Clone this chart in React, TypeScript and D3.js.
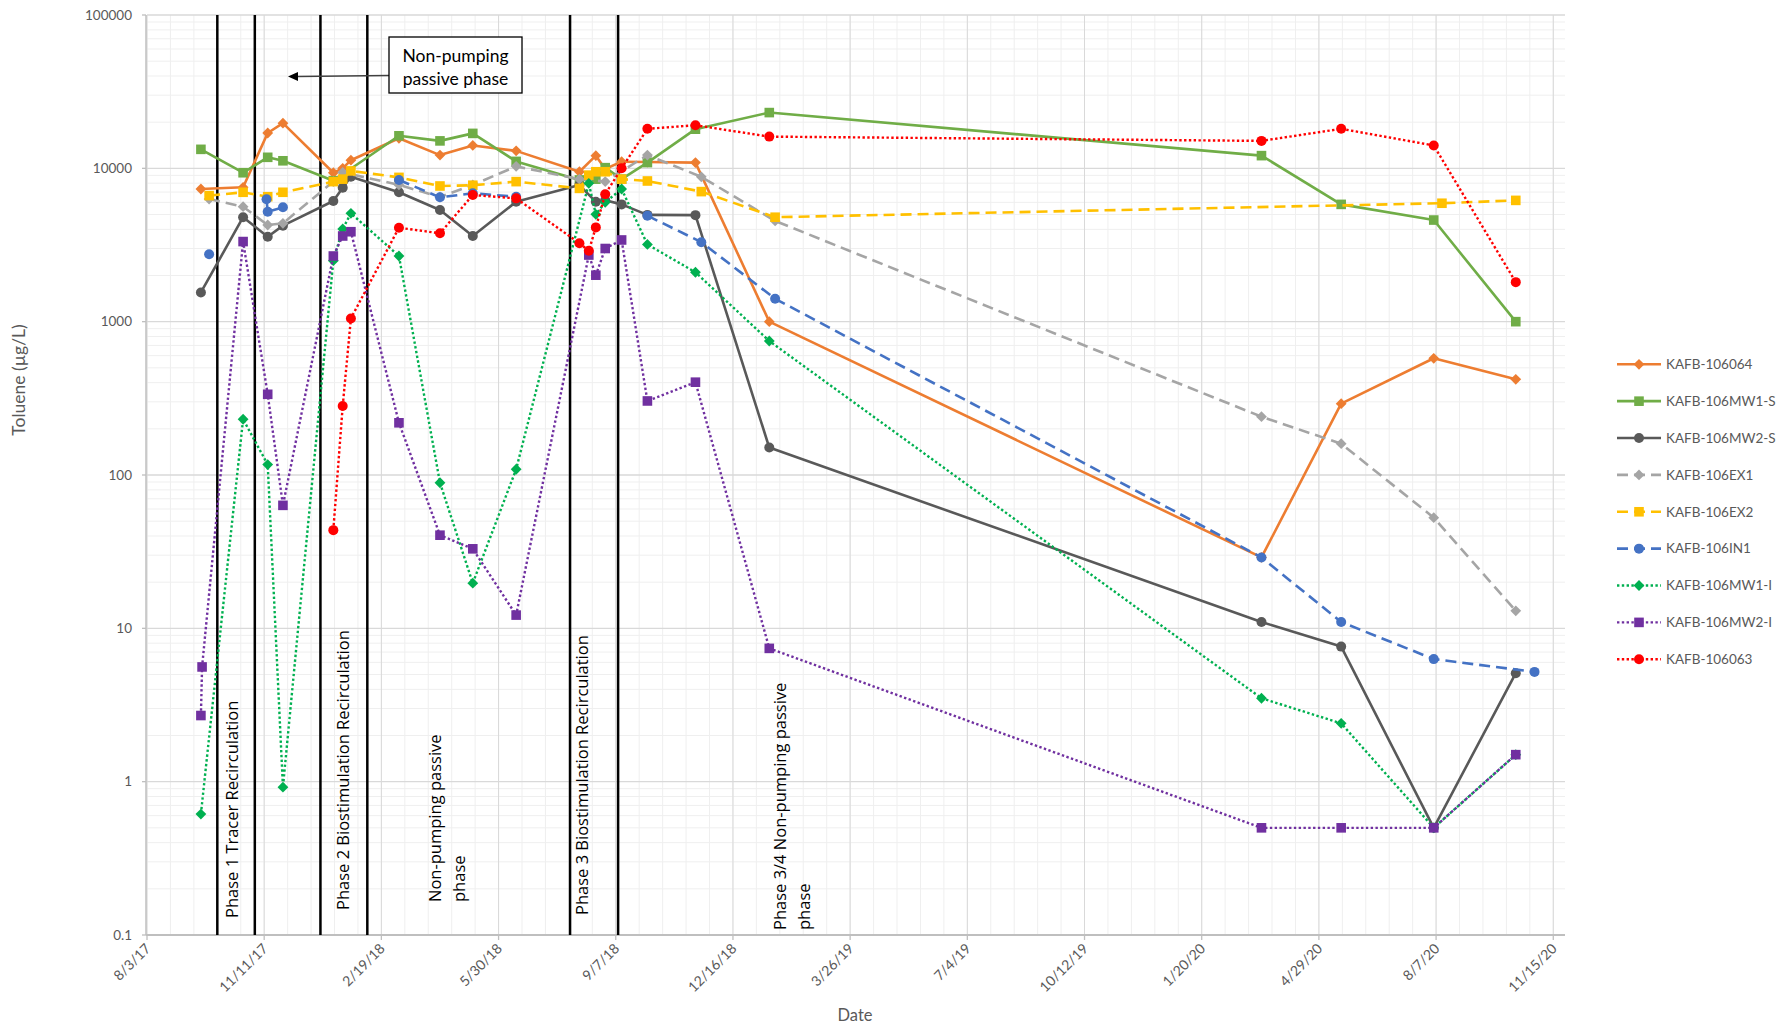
import { useEffect, useRef } from "react";
import * as d3 from "d3";

type Pt = [string, number | null];

// sampled concentrations (µg/L) per well
const kafb106064: Pt[] = [
    ["2017-09-18", 7330], ["2017-10-24", 7520], ["2017-11-14", 17000], ["2017-11-27", 19700],
    ["2018-01-09", 9360], ["2018-01-17", 10000], ["2018-01-24", 11300], ["2018-03-06", 15700],
    ["2018-04-10", 12200], ["2018-05-08", 14100], ["2018-06-14", 13000], ["2018-08-07", 9500],
    ["2018-08-21", 12100], ["2018-08-29", 9900], ["2018-09-12", 11050], ["2018-10-04", 11000],
    ["2018-11-14", 10900], ["2019-01-16", 1000], ["2020-03-11", 29], ["2020-05-18", 292],
    ["2020-08-05", 577], ["2020-10-14", 421],
];
const mw1s: Pt[] = [
    ["2017-09-18", 13300], ["2017-10-24", 9360], ["2017-11-14", 11800], ["2017-11-27", 11200],
    ["2018-01-09", 8300], ["2018-03-06", 16300], ["2018-04-10", 15100], ["2018-05-08", 16900],
    ["2018-06-14", 11100], ["2018-08-07", 8400], ["2018-08-21", 8500], ["2018-08-29", 10100],
    ["2018-09-12", 8500], ["2018-10-04", 10900], ["2018-11-14", 18000], ["2019-01-16", 23100],
    ["2020-03-11", 12100], ["2020-05-18", 5820], ["2020-08-05", 4600], ["2020-10-14", 1000],
];
const mw2s: Pt[] = [
    ["2017-09-18", 1550], ["2017-10-24", 4800], ["2017-11-14", 3580], ["2017-11-27", 4230],
    ["2018-01-09", 6120], ["2018-01-17", 7480], ["2018-01-24", 8810], ["2018-03-06", 6980],
    ["2018-04-10", 5350], ["2018-05-08", 3620], ["2018-06-14", 6050], ["2018-08-07", 7780],
    ["2018-08-21", 6050], ["2018-08-29", 6200], ["2018-09-12", 5820], ["2018-10-04", 4970],
    ["2018-11-14", 4950], ["2019-01-16", 151], ["2020-03-11", 11], ["2020-05-18", 7.6],
    ["2020-08-05", 0.5], ["2020-10-14", 5.1],
];
const ex1: Pt[] = [
    ["2017-09-25", 6300], ["2017-10-24", 5620], ["2017-11-14", 4270], ["2017-11-27", 4380],
    ["2018-01-09", 8200], ["2018-01-17", 9400], ["2018-03-06", 7800], ["2018-04-10", 6500],
    ["2018-05-08", 7800], ["2018-06-14", 10300], ["2018-08-07", 8500], ["2018-08-29", 8200],
    ["2018-10-04", 12200], ["2018-11-19", 8800], ["2019-01-21", 4540], ["2020-03-11", 240],
    ["2020-05-18", 160], ["2020-08-05", 52.7], ["2020-10-14", 13],
];
const ex2: Pt[] = [
    ["2017-09-25", 6640], ["2017-10-24", 6980], ["2017-11-14", 6530], ["2017-11-27", 6980],
    ["2018-01-09", 8190], ["2018-01-17", 8500], ["2018-01-24", 9620], ["2018-03-06", 8730],
    ["2018-04-10", 7670], ["2018-05-08", 7760], ["2018-06-14", 8190], ["2018-08-07", 7400],
    ["2018-08-15", 9030], ["2018-08-21", 9500], ["2018-08-29", 9500], ["2018-09-12", 8500],
    ["2018-10-04", 8270], ["2018-11-19", 7050], ["2019-01-21", 4800], ["2020-08-12", 5920],
    ["2020-10-14", 6180],
];
const in1: Pt[] = [
    ["2017-09-25", 2750], ["2017-10-24", null], ["2017-11-13", 6280], ["2017-11-14", 5210],
    ["2017-11-27", 5570], ["2018-01-09", null], ["2018-03-06", 8400], ["2018-04-10", 6470],
    ["2018-05-08", 6870], ["2018-06-14", 6530], ["2018-08-07", null], ["2018-10-04", 4910],
    ["2018-11-19", 3300], ["2019-01-21", 1410], ["2020-03-11", 29], ["2020-05-18", 11],
    ["2020-08-05", 6.3], ["2020-10-30", 5.2],
];
const mw1i: Pt[] = [
    ["2017-09-18", 0.615], ["2017-10-24", 231], ["2017-11-14", 117], ["2017-11-27", 0.92],
    ["2018-01-09", 2500], ["2018-01-17", 4020], ["2018-01-24", 5090], ["2018-03-06", 2680],
    ["2018-04-10", 89], ["2018-05-08", 19.7], ["2018-06-14", 109], ["2018-08-15", 7980],
    ["2018-08-21", 5010], ["2018-08-29", 6000], ["2018-09-12", 7330], ["2018-10-04", 3190],
    ["2018-11-14", 2100], ["2019-01-16", 748], ["2020-03-11", 3.5], ["2020-05-18", 2.4],
    ["2020-08-05", 0.5], ["2020-10-14", 1.5],
];
const mw2i: Pt[] = [
    ["2017-09-18", 2.7], ["2017-09-19", 5.6], ["2017-10-24", 3330], ["2017-11-14", 336],
    ["2017-11-27", 63.4], ["2018-01-09", 2680], ["2018-01-17", 3620], ["2018-01-24", 3860],
    ["2018-03-06", 219], ["2018-04-10", 40.5], ["2018-05-08", 33], ["2018-06-14", 12.2],
    ["2018-08-15", 2720], ["2018-08-21", 2010], ["2018-08-29", 3000], ["2018-09-12", 3410],
    ["2018-10-04", 304], ["2018-11-14", 403], ["2019-01-16", 7.4], ["2020-03-11", 0.5],
    ["2020-05-18", 0.5], ["2020-08-05", 0.5], ["2020-10-14", 1.5],
];
const kafb106063: Pt[] = [
    ["2018-01-09", 43.7], ["2018-01-17", 282], ["2018-01-24", 1050], ["2018-03-06", 4100],
    ["2018-04-10", 3770], ["2018-05-08", 6700], ["2018-06-14", 6370], ["2018-08-07", 3250],
    ["2018-08-15", 2900], ["2018-08-21", 4120], ["2018-08-29", 6780], ["2018-09-12", 10000],
    ["2018-10-04", 18100], ["2018-11-14", 19100], ["2019-01-16", 16100], ["2020-03-11", 15100],
    ["2020-05-18", 18100], ["2020-08-05", 14100], ["2020-10-14", 1810],
];

const seriesNames = [
    "KAFB-106064", "KAFB-106MW1-S", "KAFB-106MW2-S", "KAFB-106EX1", "KAFB-106EX2",
    "KAFB-106IN1", "KAFB-106MW1-I", "KAFB-106MW2-I", "KAFB-106063",
];
const seriesData = [kafb106064, mw1s, mw2s, ex1, ex2, in1, mw1i, mw2i, kafb106063];
const seriesColors = ["#ED7D31", "#70AD47", "#595959", "#A5A5A5", "#FFC000", "#4472C4", "#00B050", "#7030A0", "#FF0000"];
const seriesMarkers = ["diamond", "square", "circle", "diamond", "square", "circle", "diamond", "square", "circle"];
const seriesDash = ["solid", "solid", "solid", "dash", "dash", "dash", "dot", "dot", "dot"];

// phase boundaries and labels
const phaseLines = ["2017-10-02", "2017-11-03", "2017-12-29", "2018-02-07", "2018-07-30", "2018-09-09"];
const phaseLabels: { date: string; lines: string[]; bottom: number }[] = [
    { date: "2017-10-15", lines: ["Phase 1 Tracer Recirculation"], bottom: 918 },
    { date: "2018-01-18", lines: ["Phase 2 Biostimulation Recirculation"], bottom: 910 },
    { date: "2018-04-16", lines: ["Non-pumping passive", "phase"], bottom: 902 },
    { date: "2018-08-10", lines: ["Phase 3 Biostimulation Recirculation"], bottom: 915 },
    { date: "2019-02-05", lines: ["Phase 3/4 Non-pumping passive", "phase"], bottom: 930 },
];

const xStart = "2017-08-03";
const tickStepDays = 100;
const yTickValues = [0.1, 1, 10, 100, 1000, 10000, 100000];

const W = 1790;
const H = 1029;
const FONT = "Lato, 'Liberation Sans', sans-serif";

export default function App() {
    const svgRef = useRef<SVGSVGElement>(null);

    useEffect(() => {
        if (!svgRef.current) return;
        const svg = d3.select(svgRef.current);
        svg.selectAll("*").remove();

        const parse = d3.utcParse("%Y-%m-%d");
        const start = parse(xStart)!;
        const left = 147, right = 1565, top = 15, bottom = 935;

        const x = d3.scaleUtc().domain([start, d3.utcDay.offset(start, 1210)]).range([left, right]);
        const y = d3.scaleLog().domain([0.1, 100000]).range([bottom, top]);

        const grid = svg.append("g");
        // minor vertical grid every 20 days
        d3.range(0, 1210, 20).forEach((d) => {
            const xx = x(d3.utcDay.offset(start, d));
            grid.append("line").attr("x1", xx).attr("x2", xx).attr("y1", top).attr("y2", bottom)
                .attr("stroke", "#efefef").attr("stroke-width", 1);
        });
        // minor horizontal grid
        yTickValues.slice(0, -1).forEach((dec) => {
            d3.range(2, 10).forEach((m) => {
                const yy = y(dec * m);
                grid.append("line").attr("x1", left).attr("x2", right).attr("y1", yy).attr("y2", yy)
                    .attr("stroke", "#efefef").attr("stroke-width", 1);
            });
        });
        const xTicks = d3.range(0, 1201, tickStepDays).map((d) => d3.utcDay.offset(start, d));
        xTicks.forEach((t) => {
            grid.append("line").attr("x1", x(t)).attr("x2", x(t)).attr("y1", top).attr("y2", bottom)
                .attr("stroke", "#d9d9d9").attr("stroke-width", 1);
        });
        yTickValues.forEach((v) => {
            grid.append("line").attr("x1", left).attr("x2", right).attr("y1", y(v)).attr("y2", y(v))
                .attr("stroke", "#d9d9d9").attr("stroke-width", 1.3);
        });

        // axes
        const axes = svg.append("g");
        axes.append("line").attr("x1", left - 1).attr("x2", left - 1).attr("y1", top).attr("y2", bottom)
            .attr("stroke", "#bfbfbf").attr("stroke-width", 1.5);
        axes.append("line").attr("x1", left - 1).attr("x2", right).attr("y1", bottom).attr("y2", bottom)
            .attr("stroke", "#bfbfbf").attr("stroke-width", 2);
        const fmt = d3.utcFormat("%-m/%-d/%y");
        xTicks.forEach((t) => {
            axes.append("line").attr("x1", x(t)).attr("x2", x(t)).attr("y1", bottom).attr("y2", bottom + 5)
                .attr("stroke", "#bfbfbf").attr("stroke-width", 1.3);
            axes.append("text")
                .attr("transform", `translate(${x(t) + 1},${bottom + 11}) rotate(-45)`)
                .attr("text-anchor", "end").attr("dy", "0.35em")
                .style("font-family", FONT).style("font-size", "14px").style("fill", "#595959")
                .text(fmt(t));
        });
        yTickValues.forEach((v) => {
            axes.append("line").attr("x1", left - 5).attr("x2", left - 1).attr("y1", y(v)).attr("y2", y(v))
                .attr("stroke", "#bfbfbf").attr("stroke-width", 1.3);
            axes.append("text").attr("x", 132).attr("y", y(v)).attr("dy", "0.35em")
                .attr("text-anchor", "end")
                .style("font-family", FONT).style("font-size", "13.5px").style("fill", "#595959")
                .text(String(v));
        });
        axes.append("text").attr("transform", "translate(25,380) rotate(-90)")
            .attr("text-anchor", "middle")
            .style("font-family", FONT).style("font-size", "17.5px").style("fill", "#595959")
            .text("Toluene (µg/L)");
        axes.append("text").attr("x", 855).attr("y", 1021).attr("text-anchor", "middle")
            .style("font-family", FONT).style("font-size", "16.5px").style("fill", "#595959")
            .text("Date");

        // phase boundaries
        const phase = svg.append("g");
        phaseLines.forEach((d) => {
            const xx = x(parse(d)!);
            phase.append("line").attr("x1", xx).attr("x2", xx).attr("y1", top).attr("y2", bottom)
                .attr("stroke", "#000").attr("stroke-width", 2.5);
        });
        phaseLabels.forEach((p) => {
            const cx = x(parse(p.date)!);
            const n = p.lines.length;
            p.lines.forEach((line, i) => {
                const lx = cx + (i - (n - 1) / 2) * 24 + 5.5;
                phase.append("text")
                    .attr("transform", `translate(${lx},${p.bottom}) rotate(-90)`)
                    .style("font-family", "'Open Sans', sans-serif").style("font-size", "16.5px")
                    .style("fill", "#000")
                    .text(line);
            });
        });

        // series
        const dashFor = (k: string) => (k === "dash" ? "11 6" : k === "dot" ? "2.4 2.4" : null);
        seriesData.forEach((data, i) => {
            const color = seriesColors[i];
            const g = svg.append("g");
            const pts = data.map(([d, v]) => [parse(d)!, v] as [Date, number | null]);
            const line = d3.line<[Date, number | null]>()
                .defined((p) => p[1] != null)
                .x((p) => x(p[0]))
                .y((p) => y(p[1] as number));
            g.append("path").attr("d", line(pts) as string)
                .attr("fill", "none").attr("stroke", color)
                .attr("stroke-width", seriesDash[i] === "dot" ? 2.4 : 2.6)
                .attr("stroke-dasharray", dashFor(seriesDash[i]))
                .attr("stroke-linejoin", "round");
            pts.filter((p) => p[1] != null).forEach((p) => {
                drawMarker(g, seriesMarkers[i], x(p[0]), y(p[1] as number), color);
            });
        });

        // annotation box with arrow
        const ann = svg.append("g");
        ann.append("line").attr("x1", 389).attr("y1", 75.5).attr("x2", 297).attr("y2", 76.5)
            .attr("stroke", "#404040").attr("stroke-width", 1.3);
        ann.append("path").attr("d", "M288,76.6 L298,72 L298,81 Z").attr("fill", "#000");
        ann.append("rect").attr("x", 389).attr("y", 37).attr("width", 133).attr("height", 56)
            .attr("fill", "#fff").attr("stroke", "#000").attr("stroke-width", 1.3);
        ["Non-pumping", "passive phase"].forEach((t, i) => {
            ann.append("text").attr("x", 455.5).attr("y", 55.5 + i * 23).attr("dy", "0.35em")
                .attr("text-anchor", "middle")
                .style("font-family", FONT).style("font-size", "17.5px").style("fill", "#000")
                .text(t);
        });

        // legend
        const leg = svg.append("g");
        seriesNames.forEach((name, i) => {
            const ly = 364.3 + i * 36.87;
            leg.append("line").attr("x1", 1617).attr("x2", 1661).attr("y1", ly).attr("y2", ly)
                .attr("stroke", seriesColors[i])
                .attr("stroke-width", seriesDash[i] === "dot" ? 2.4 : 2.6)
                .attr("stroke-dasharray", dashFor(seriesDash[i]));
            drawMarker(leg, seriesMarkers[i], 1639, ly, seriesColors[i]);
            leg.append("text").attr("x", 1666).attr("y", ly).attr("dy", "0.35em")
                .style("font-family", FONT).style("font-size", "13.5px").style("fill", "#595959")
                .text(name);
        });
    }, []);

    return (
        <svg ref={svgRef} width={W} height={H} viewBox={`0 0 ${W} ${H}`}
            style={{ position: "absolute", left: 0, top: 0, background: "#fff", display: "block" }} />
    );
}

function drawMarker(
    g: d3.Selection<SVGGElement, unknown, null, undefined>,
    kind: string, cx: number, cy: number, color: string,
) {
    if (kind === "circle") {
        g.append("circle").attr("cx", cx).attr("cy", cy).attr("r", 5).attr("fill", color);
    } else if (kind === "square") {
        g.append("rect").attr("x", cx - 4.8).attr("y", cy - 4.8).attr("width", 9.6).attr("height", 9.6)
            .attr("fill", color);
    } else {
        const r = 5.4;
        g.append("path").attr("d", `M${cx},${cy - r} L${cx + r},${cy} L${cx},${cy + r} L${cx - r},${cy} Z`)
            .attr("fill", color);
    }
}
